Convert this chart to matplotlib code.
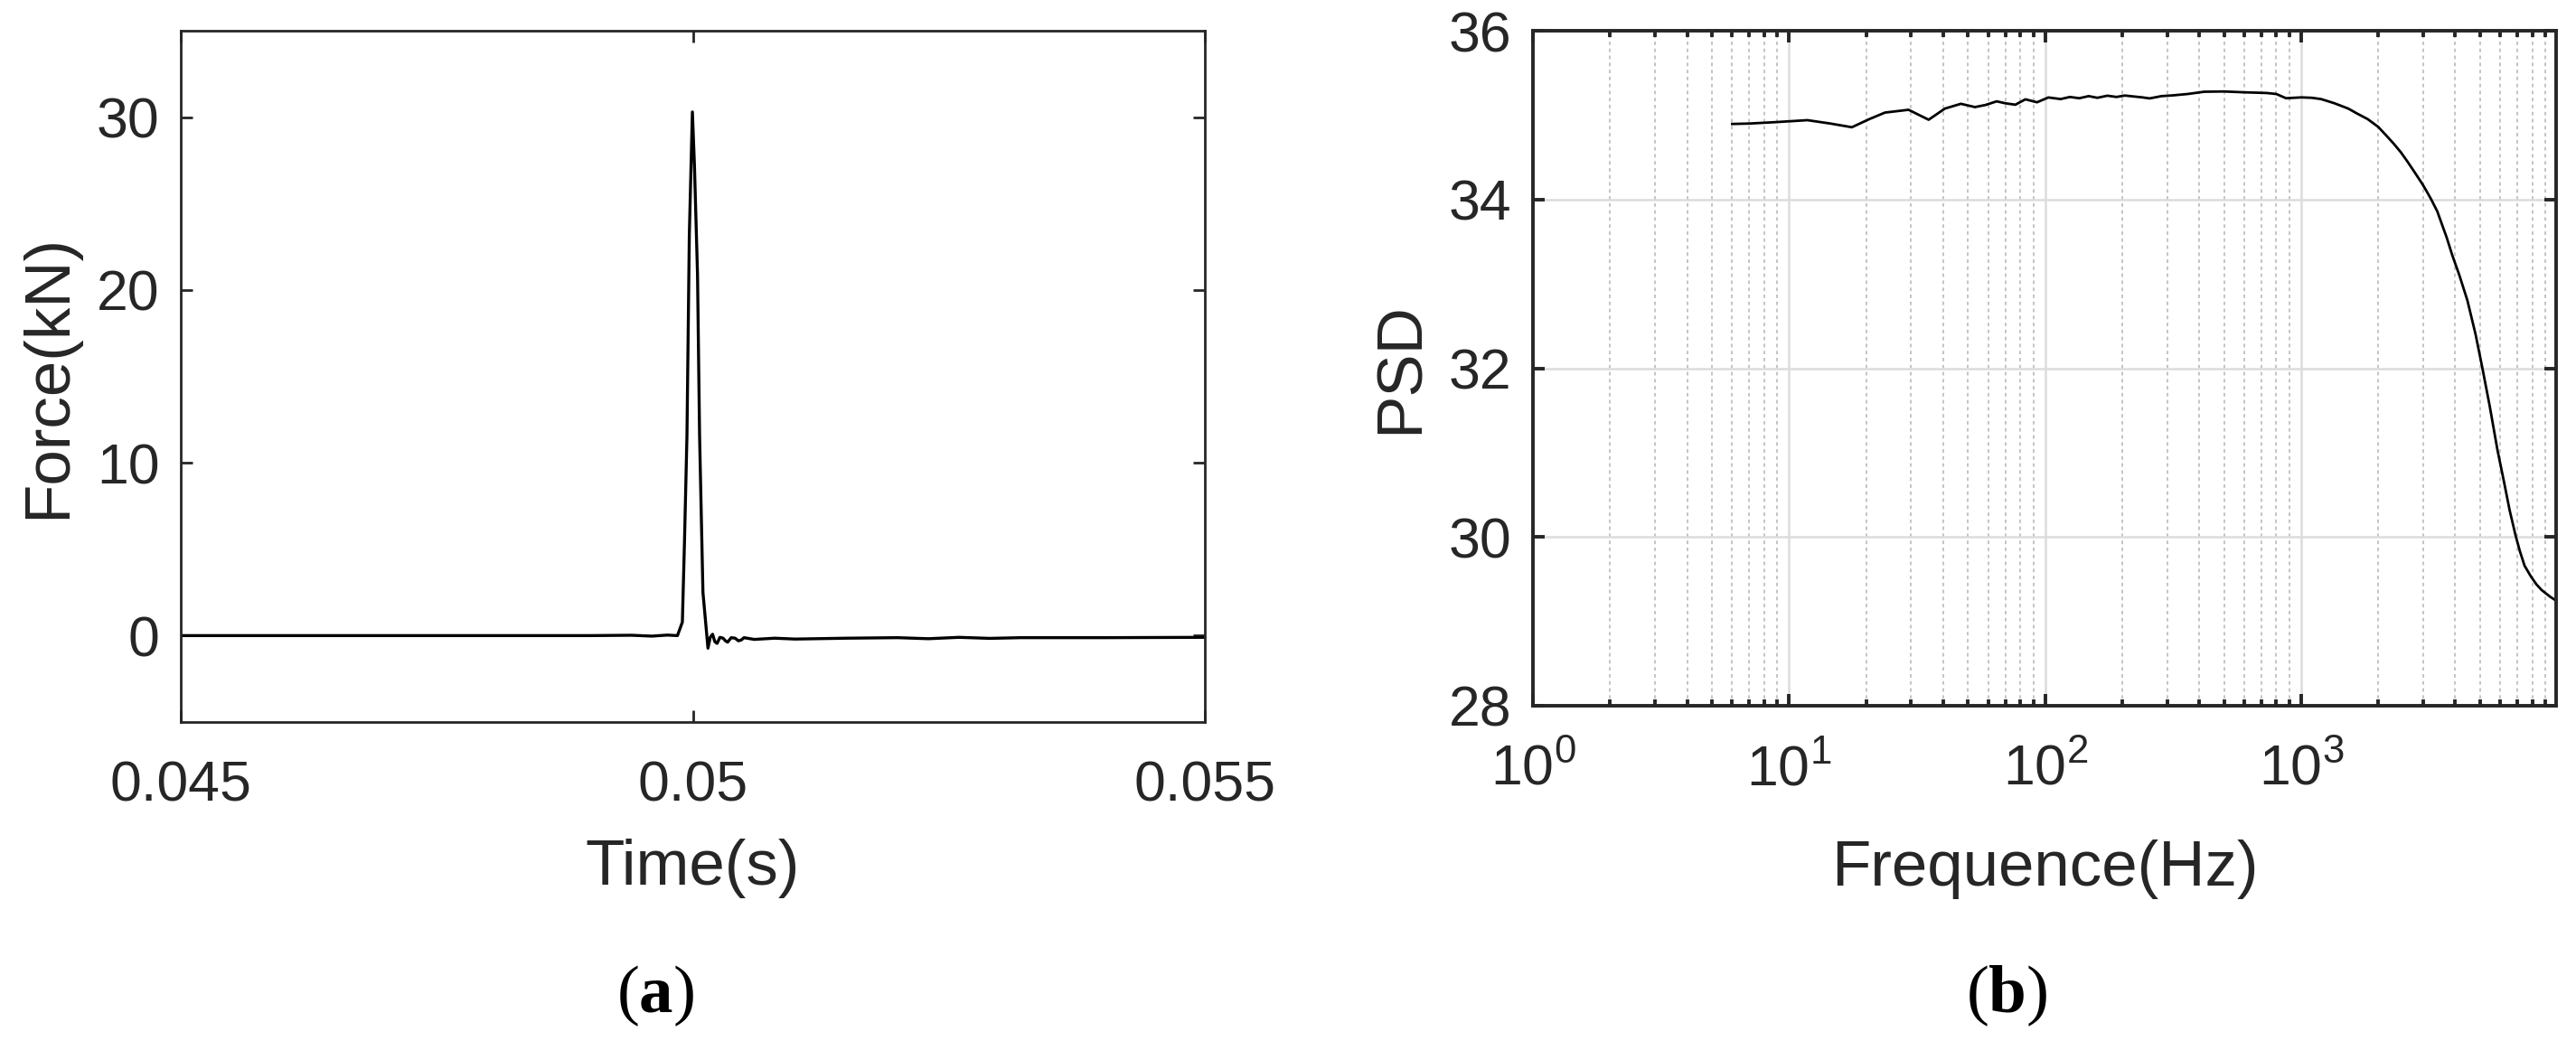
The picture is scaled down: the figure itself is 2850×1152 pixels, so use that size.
import matplotlib
matplotlib.use('Agg')
import matplotlib.pyplot as plt
import matplotlib.ticker as mticker

# force pulse (panel a)
time_s = [0.0450, 0.0470, 0.0490, 0.04940, 0.04960, 0.04975, 0.04985,
          0.049898, 0.049919, 0.049943, 0.049966, 0.049996, 0.050016,
          0.050046, 0.050066, 0.050099, 0.050148, 0.050170, 0.050193,
          0.050215, 0.050237, 0.050265, 0.050296, 0.050318, 0.050340,
          0.050375, 0.050413, 0.050445, 0.050472, 0.0505, 0.0506, 0.0508,
          0.0510, 0.0515, 0.0520, 0.0523, 0.0526, 0.0529, 0.0532, 0.0540,
          0.0550]
force_kN = [0.0, 0.0, 0.0, 0.02, -0.03, 0.03, 0.0,
            0.78, 5.5, 11.6, 23.2, 30.3, 27.2,
            20.9, 11.6, 2.5, -0.73, -0.1, 0.08,
            -0.35, -0.45, -0.1, -0.15, -0.3, -0.38,
            -0.12, -0.15, -0.3, -0.26, -0.12, -0.22, -0.15,
            -0.2, -0.15, -0.12, -0.18, -0.1, -0.16, -0.12, -0.12,
            -0.1]

# power spectral density (panel b)
freq_hz = [6.0, 7.0, 8.9, 11.8, 14.5, 17.6, 20.5, 23.7, 29.3, 35.1, 40.6,
           46.9, 53.2, 58.5, 64.7, 70.0, 76.5, 83.8, 93, 103, 115, 125, 136,
           148, 160, 175, 190, 205, 223, 240, 256, 285, 316, 360, 419, 500,
           600, 733, 800, 873, 1002, 1100, 1196, 1350, 1528, 1650, 1820,
           2000, 2153, 2300, 2450, 2600, 2750, 2979, 3100, 3221, 3400, 3700,
           3894, 4150, 4457, 4800, 5103, 5450, 5843, 6200, 6515, 6873, 7150,
           7454, 7900, 8310, 8700, 9400, 9850]
psd = [34.895, 34.90, 34.917, 34.94, 34.90, 34.856, 34.95, 35.03, 35.063,
       34.945, 35.077, 35.134, 35.095, 35.12, 35.163, 35.14, 35.123, 35.187,
       35.152, 35.209, 35.19, 35.215, 35.20, 35.225, 35.205, 35.23, 35.215,
       35.232, 35.22, 35.21, 35.198, 35.225, 35.234, 35.25, 35.277, 35.28,
       35.27, 35.262, 35.25, 35.2, 35.21, 35.205, 35.19, 35.14, 35.077,
       35.02, 34.952, 34.86, 34.756, 34.66, 34.56, 34.45, 34.34, 34.18,
       34.09, 34.0, 33.86, 33.55, 33.337, 33.1, 32.805, 32.4, 32.0, 31.55,
       31.03, 30.65, 30.32, 30.02, 29.83, 29.66, 29.53, 29.435, 29.37,
       29.29, 29.25]

left_xticks = [0.045, 0.05, 0.055]
left_xlabels = ['0.045', '0.05', '0.055']
left_yticks = [0, 10, 20, 30]
right_yticks = [28, 30, 32, 34, 36]

txt = '#262626'
plt.rcParams['font.family'] = ['Liberation Sans', 'DejaVu Sans']
plt.rcParams['mathtext.fontset'] = 'custom'
plt.rcParams['mathtext.rm'] = 'Liberation Sans'
plt.rcParams['mathtext.bf'] = 'Liberation Serif:bold'
plt.rcParams['text.color'] = txt
plt.rcParams['axes.labelcolor'] = txt
plt.rcParams['xtick.color'] = txt
plt.rcParams['ytick.color'] = txt

tick_fs = 45
label_fs = 51

fig = plt.figure(figsize=(28.5, 11.52), dpi=100)

# ---- panel (a)
ax1 = fig.add_axes([200 / 2850, 1 - 799 / 1152, 1133 / 2850, 765 / 1152])
ax1.plot(time_s, force_kN, color='k', lw=2.4)
ax1.set_xlim(0.045, 0.055)
ax1.set_ylim(-5, 35)
ax1.set_xticks(left_xticks)
ax1.set_xticklabels(left_xlabels)
ax1.set_yticks(left_yticks)
for sp in ax1.spines.values():
    sp.set_linewidth(2.0)
    sp.set_color(txt)
ax1.tick_params(direction='in', top=True, right=True, length=9.5,
                width=2.0, labelsize=tick_fs)
ax1.tick_params(axis='x', pad=30)
ax1.tick_params(axis='y', pad=17)
ax1.set_xlabel('Time(s)', fontsize=label_fs)
ax1.set_ylabel('Force(kN)', fontsize=label_fs)
ax1.xaxis.set_label_coords(0.5, -0.168)
ax1.yaxis.set_label_coords(-0.0997, 0.5)

# ---- panel (b)
ax2 = fig.add_axes([1696 / 2850, 1 - 781 / 1152, 1132 / 2850, 747 / 1152])
ax2.set_xscale('log')
ax2.set_axisbelow(True)
ax2.plot(freq_hz, psd, color='k', lw=2.0)
ax2.set_xlim(1, 9900)
ax2.set_ylim(28, 36)
ax2.set_yticks(right_yticks)
ax2.xaxis.set_major_locator(mticker.LogLocator(base=10, numticks=10))
ax2.xaxis.set_minor_locator(mticker.LogLocator(base=10, subs=range(2, 10), numticks=20))
ax2.xaxis.set_minor_formatter(mticker.NullFormatter())
ax2.grid(which='major', color='#dcdcdc', lw=1.8, linestyle='-')
ax2.grid(which='minor', axis='x', color='#c4c4c4', lw=1.4, linestyle=(0, (2, 2)))
for sp in ax2.spines.values():
    sp.set_linewidth(2.8)
    sp.set_color(txt)
ax2.tick_params(which='both', direction='in', top=True, right=True,
                width=2.8, labelsize=tick_fs)
ax2.tick_params(which='major', length=9.5)
ax2.tick_params(which='minor', length=5)
ax2.tick_params(axis='x', pad=30)
ax2.tick_params(axis='y', pad=17)
ax2.set_xlabel('Frequence(Hz)', fontsize=label_fs)
ax2.set_ylabel('PSD', fontsize=label_fs)
ax2.xaxis.set_label_coords(0.5, -0.198)
ax2.yaxis.set_label_coords(-0.099, 0.5)

# sub-figure captions
fig.text(725 / 2850, 1 - 1102 / 1152, r'($\mathbf{a}$)', family='Liberation Serif',
         fontsize=54, color='k', ha='center', va='center')
fig.text(2220 / 2850, 1 - 1102 / 1152, r'($\mathbf{b}$)', family='Liberation Serif',
         fontsize=54, color='k', ha='center', va='center')

fig.savefig('out.png', dpi=100)
